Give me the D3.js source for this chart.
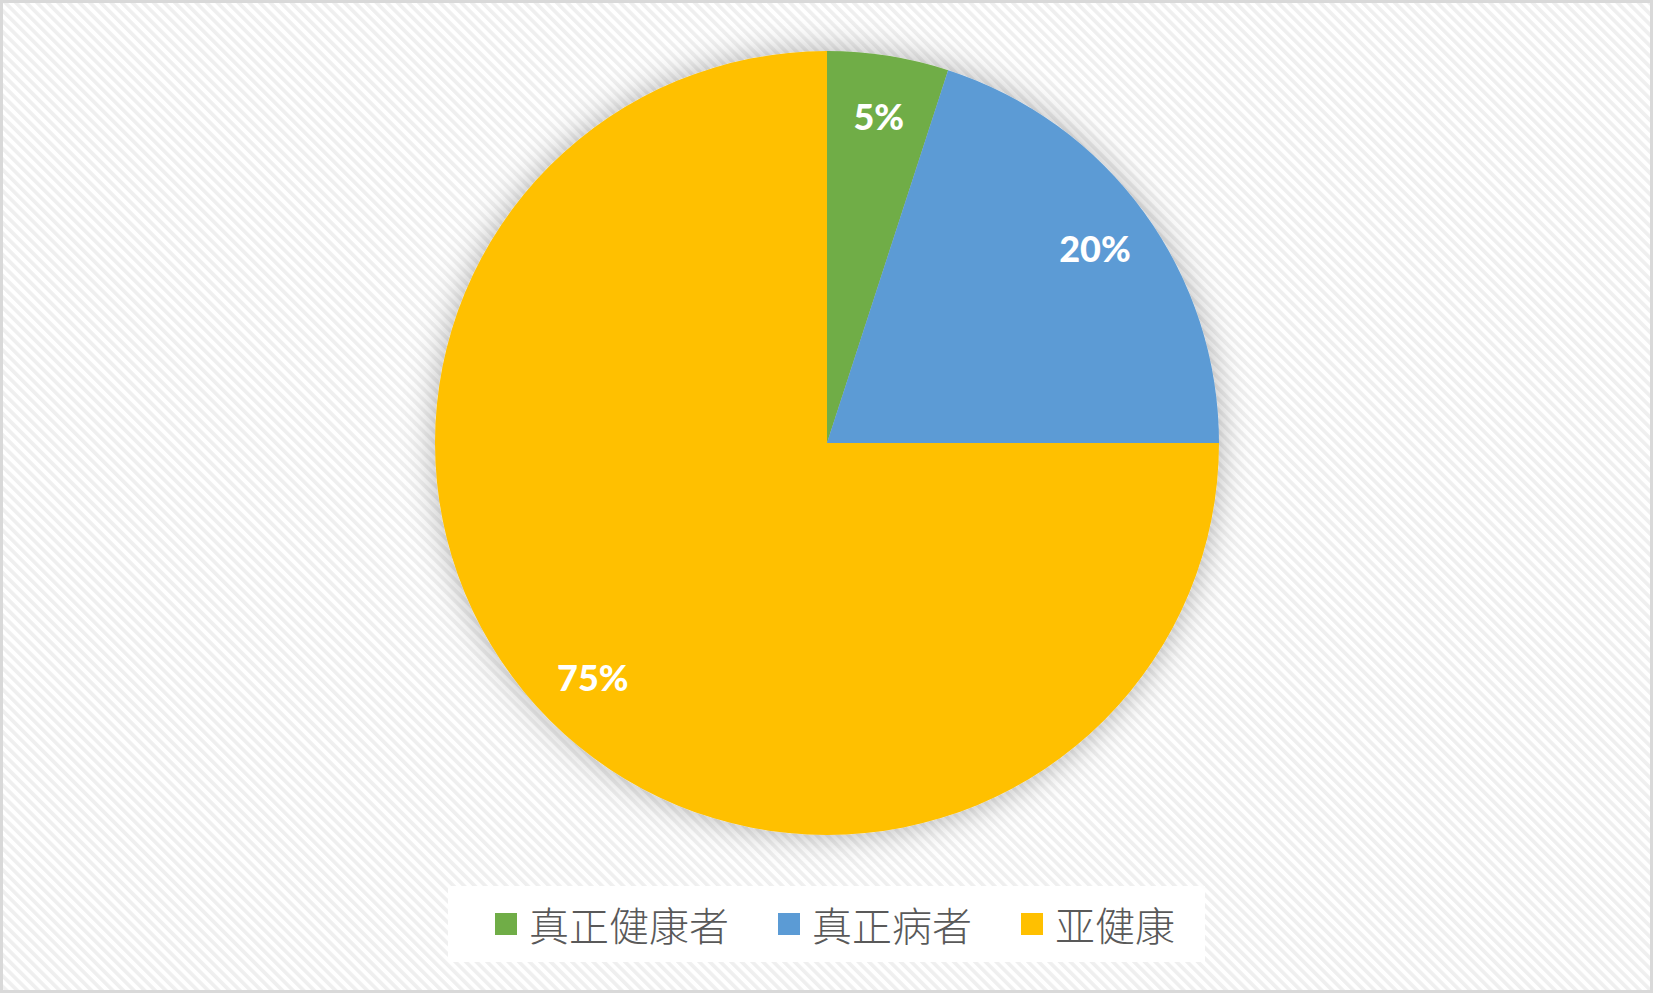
<!DOCTYPE html>
<html><head><meta charset="utf-8">
<script src="https://cdn.jsdelivr.net/npm/d3@7/dist/d3.min.js"></script>
<style>html,body{margin:0;padding:0;background:#fff;}svg{display:block;}</style>
</head><body>
<svg id="chart" width="1653" height="993"></svg>
<script>
const categories = ["真正健康者", "真正病者", "亚健康"];
const values = [5, 20, 75];
const labels = ["5%", "20%", "75%"];
const colors = ["#70AD47", "#5B9BD5", "#FFC000"];

const W = 1653, H = 993;
const svg = d3.select("#chart");
const defs = svg.append("defs");

const P = 7.5;
const pat = defs.append("pattern").attr("id", "stripes")
  .attr("patternUnits", "userSpaceOnUse").attr("width", P).attr("height", P)
  .attr("patternTransform", "rotate(-45)");
pat.append("rect").attr("width", P).attr("height", P).attr("fill", "#ffffff");
pat.append("rect").attr("width", 3.6).attr("height", P).attr("fill", "#efefef");

const f = defs.append("filter").attr("id", "shadow")
  .attr("x", "-20%").attr("y", "-20%").attr("width", "140%").attr("height", "140%");
f.append("feDropShadow").attr("dx", 0).attr("dy", 0).attr("stdDeviation", 16)
  .attr("flood-color", "#000").attr("flood-opacity", 0.3);

svg.append("rect").attr("x", 0).attr("y", 0).attr("width", W).attr("height", H)
  .attr("fill", "url(#stripes)");
svg.append("rect").attr("x", 1.5).attr("y", 1.5).attr("width", W - 3).attr("height", H - 3)
  .attr("fill", "none").attr("stroke", "#d9d9d9").attr("stroke-width", 3);

const cx = 827, cy = 443, R = 392;
const data = categories.map((c, i) => ({ cat: c, value: values[i], label: labels[i], color: colors[i] }));
const pie = d3.pie().sort(null).value(d => d.value).startAngle(0).endAngle(2 * Math.PI);
const arcs = pie(data);
const arc = d3.arc().innerRadius(0).outerRadius(R);
const labelArc = d3.arc().innerRadius(R * 0.845).outerRadius(R * 0.845);

const g = svg.append("g").attr("transform", `translate(${cx},${cy})`);
g.append("g").attr("filter", "url(#shadow)")
  .selectAll("path").data(arcs).join("path")
  .attr("d", arc).attr("fill", d => d.data.color);

g.selectAll("text.lbl").data(arcs).join("text").attr("class", "lbl")
  .attr("transform", d => `translate(${labelArc.centroid(d)})`)
  .attr("text-anchor", "middle").attr("dominant-baseline", "central")
  .attr("font-family", "Lato, 'Open Sans', sans-serif").attr("font-weight", 900)
  .attr("font-size", 36).attr("fill", "#ffffff")
  .text(d => d.data.label);

// legend
const lg = svg.append("g");
const box = lg.append("rect").attr("fill", "#ffffff");
const items = lg.selectAll("g.item").data(data).join("g").attr("class", "item");
items.append("rect").attr("width", 22).attr("height", 22).attr("y", -11)
  .attr("fill", d => d.color);
items.append("text").attr("x", 34).attr("y", 0).attr("dominant-baseline", "central")
  .attr("font-family", "'Noto Sans CJK SC', sans-serif").attr("font-size", 40)
  .attr("font-weight", 300)
  .attr("fill", "#595959").text(d => d.cat);
const startX = 495, gap = 49;
let x = startX;
items.each(function () {
  const t = d3.select(this).select("text").node().getComputedTextLength();
  d3.select(this).attr("transform", `translate(${x},924)`);
  x += 34 + t + gap;
});
const endX = x - gap;
box.attr("x", startX - 47).attr("y", 886).attr("width", endX - startX + 47 + 30).attr("height", 76);
</script>
</body></html>
